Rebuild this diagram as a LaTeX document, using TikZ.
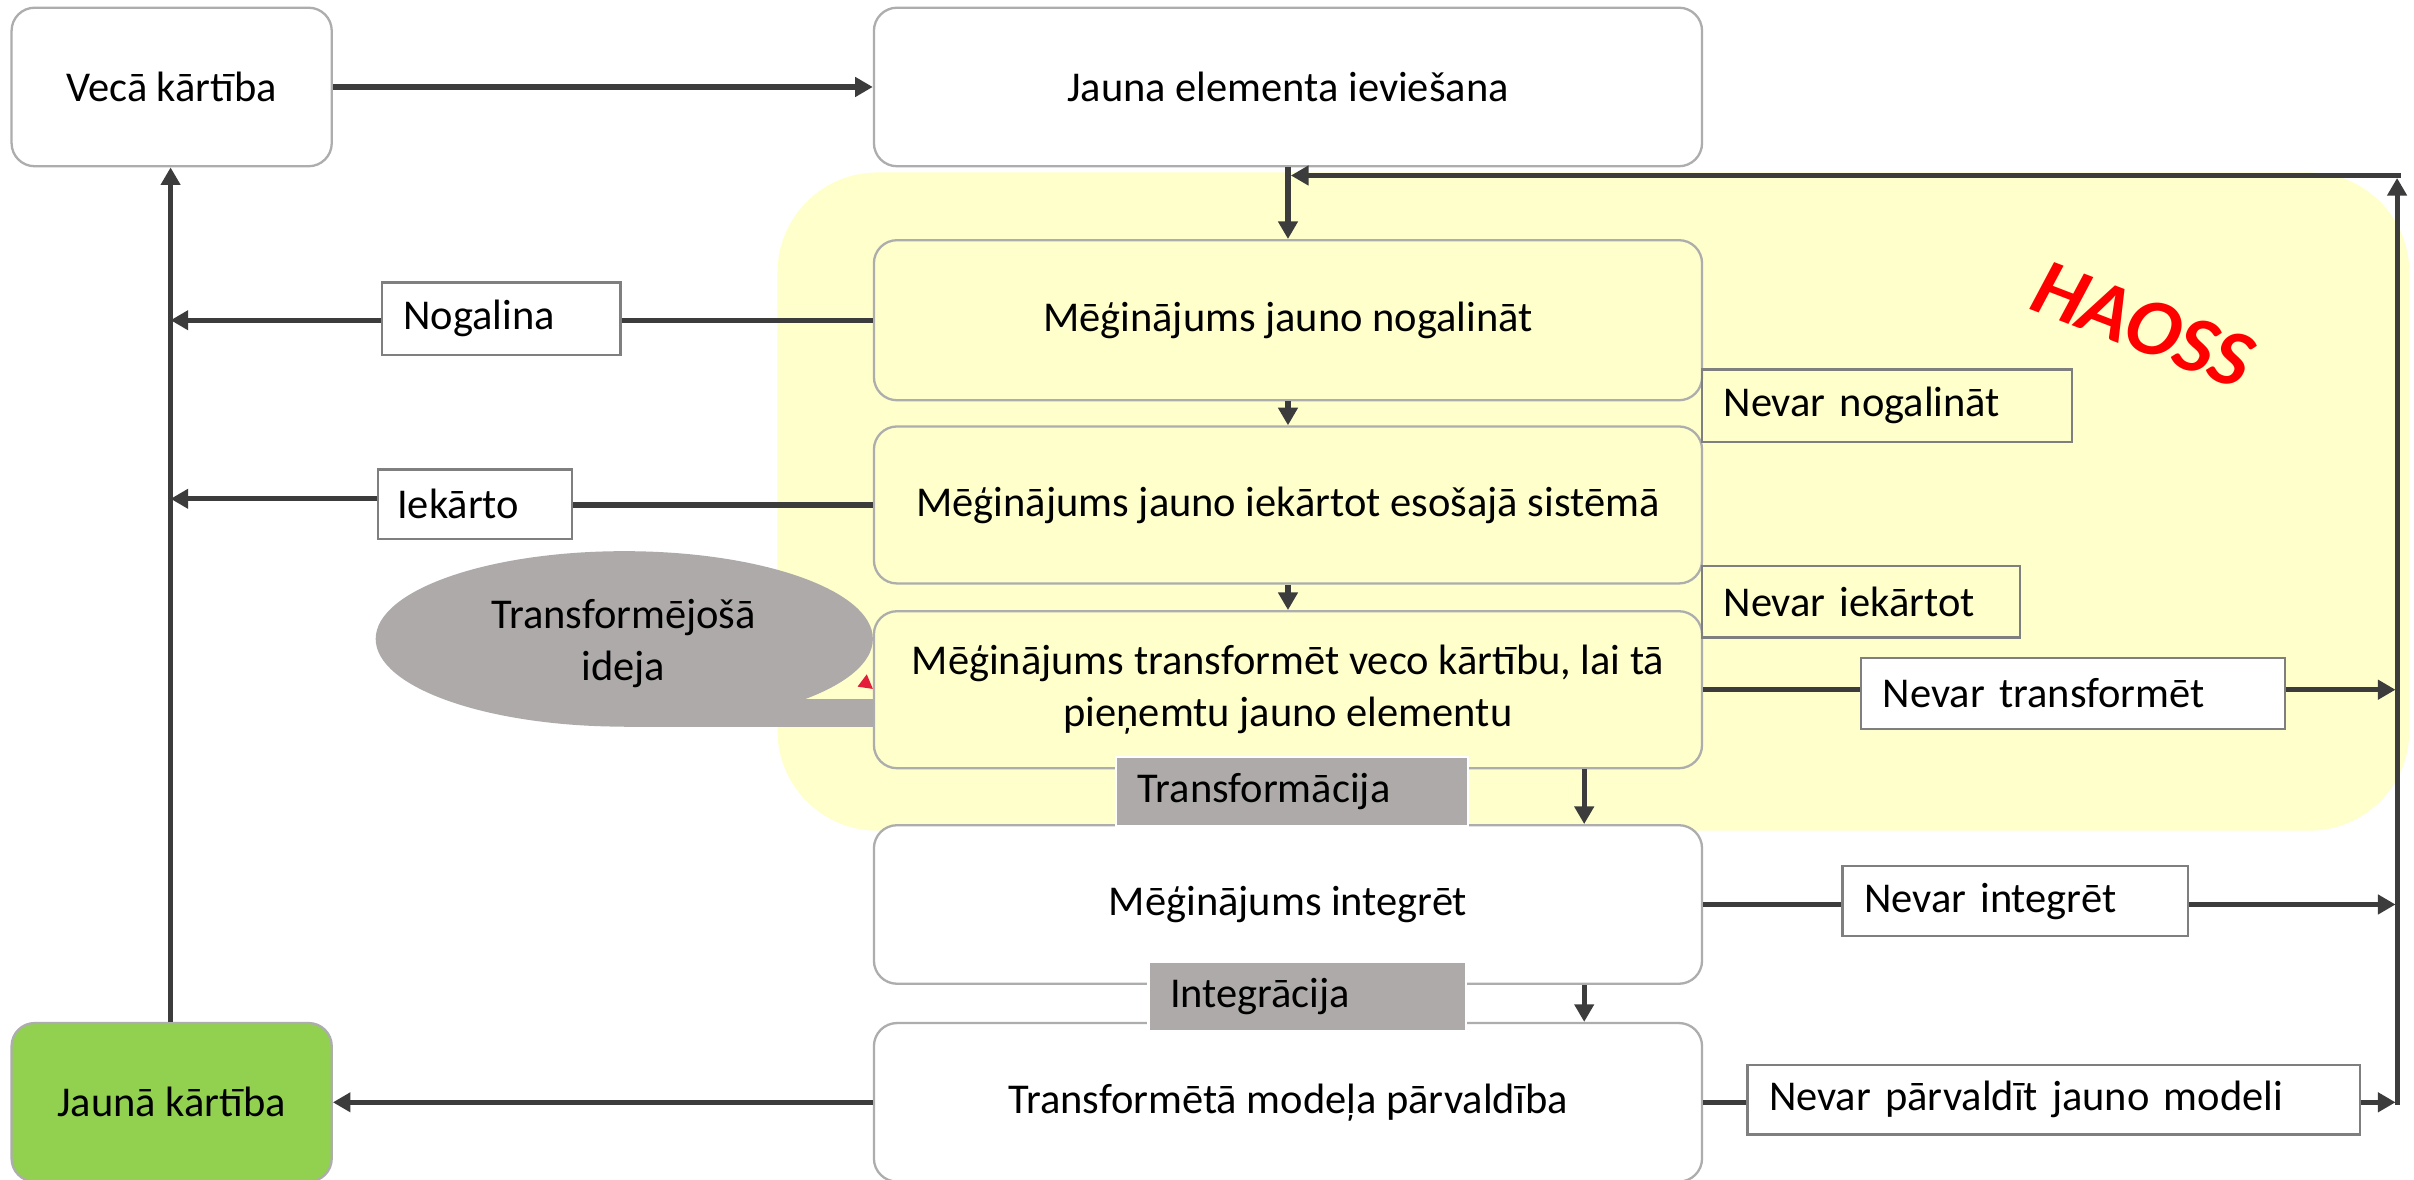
\documentclass[tikz,border=0pt]{standalone}
\usepackage{fontspec}
\setmainfont{Carlito}
\usetikzlibrary{arrows.meta,shapes.geometric}
\definecolor{yel}{HTML}{FFFFCC}
\definecolor{bgray}{HTML}{ADADAD}
\definecolor{lgray}{HTML}{7F7F7F}
\definecolor{cdark}{HTML}{3C3C3C}
\definecolor{egray}{HTML}{AEAAAA}
\definecolor{lgreen}{HTML}{92D050}
\definecolor{tred}{HTML}{E31E3C}
\begin{document}
\begin{tikzpicture}[x=0.02cm,y=-0.02cm,
  txt/.style={font=\fontsize{15.7}{19.5}\selectfont},
  box/.style={txt, draw=bgray, line width=0.85pt, rounded corners=0.3cm, align=center, inner sep=0pt},
  lbl/.style={txt, draw=lgray, line width=0.8pt, inner xsep=0.28cm, inner ysep=0pt, align=left},
  glbl/.style={lbl, fill=egray, draw=white},
  conn/.style={draw=cdark, line width=1.9pt},
  arr/.style={conn, -{Triangle[length=6.5pt,width=7pt]}}]
\clip (0,0) rectangle (1568,766);
\fill[white] (0,0) rectangle (1568,766);
% chaos region
\fill[yel, rounded corners=1.3cm] (505,112) rectangle (1565,539.6);
% transforming idea
\fill[egray] (405,454) rectangle (568,472);
\node[ellipse, fill=egray, minimum width=6.46cm, minimum height=2.28cm, inner sep=0pt] (idea) at (405.5,415) {};
\node[txt, align=center] (ideatxt) at (405,418) {Transformējošā\\ideja};
\fill[tred] (557,446) -- (567,447.5) -- (563,438) -- cycle;
% main boxes
\node[box, fill=white, minimum width=4.16cm, minimum height=2.06cm] (old) at (111.5,56.5) {Vecā kārtība};
\node[box, fill=white, minimum width=10.76cm, minimum height=2.06cm] (intro) at (836.6,56.5) {Jauna elementa ieviešana};
\node[box, fill=yel, minimum width=10.76cm, minimum height=2.08cm] (b3) at (836.6,208) {Mēģinājums jauno nogalināt};
\node[box, fill=yel, minimum width=10.76cm, minimum height=2.04cm] (b4) at (836.6,328) {Mēģinājums jauno iekārtot esošajā sistēmā};
\node[box, fill=yel, minimum width=10.76cm, minimum height=2.04cm] (b5) at (836.6,448) {Mēģinājums transformēt veco kārtību, lai tā\\pieņemtu jauno elementu};
\node[box, fill=white, minimum width=10.76cm, minimum height=2.06cm] (b6) at (836.6,587.5) {Mēģinājums integrēt};
\node[box, fill=white, minimum width=10.76cm, minimum height=2.06cm] (b7) at (836.6,716) {Transformētā modeļa pārvaldība};
\node[box, fill=lgreen, minimum width=4.16cm, minimum height=2.06cm] (new) at (111.5,716) {Jaunā kārtība};
% labels
\node[lbl, fill=white, text width=2.54cm, minimum height=0.94cm] (nog) at (325.5,207) {Nogalina};
\node[lbl, fill=white, inner xsep=0.25cm, text width=2.02cm, minimum height=0.9cm] (iek) at (308.5,327.5) {Iekārto};
\node[lbl, text width=4.25cm, minimum height=0.94cm] (nnog) at (1225.75,263.5) {Nevar nogalināt};
\node[lbl, text width=3.57cm, minimum height=0.93cm] (niek) at (1208.75,390.8) {Nevar iekārtot};
\node[lbl, fill=white, text width=4.94cm, minimum height=0.93cm] (ntr) at (1346.5,450.5) {Nevar transformēt};
\node[lbl, fill=white, text width=3.93cm, minimum height=0.91cm] (nint) at (1309,585.3) {Nevar integrēt};
\node[lbl, fill=white, text width=7.40cm, minimum height=0.9cm] (npar) at (1334,714.4) {Nevar pārvaldīt jauno modeli};
% coordinates
\coordinate (vl) at (110.8,0);
\coordinate (vr) at (1556,0);
\coordinate (xa) at (1029,0);
\coordinate (iekl) at (110.8,324);
\coordinate (rb) at (1557,717.5);
\coordinate (rtu) at (1557,115.6);
\coordinate (rt) at (1559.5,114);
\coordinate (jn) at (838.5,114);
% connectors
\draw[arr] (old.east) -- (intro.west);
\draw[arr] (intro.south) -- (b3.north);
\draw[arr] (b3.south) -- (b4.north);
\draw[arr] (b4.south) -- (b5.north);
\draw[arr] (b5.south -| xa) -- (b6.north -| xa);
\draw[arr] (b6.south -| xa) -- (b7.north -| xa);
\draw[conn] (b3.west) -- (b3.west -| nog.east);
\draw[arr] (b3.west -| nog.west) -- (b3.west -| vl);
\draw[conn] (b4.west) -- (b4.west -| iek.east);
\draw[arr] (iek.west |- iekl) -- (iekl);
\draw[arr] (new.north -| vl) -- (old.south -| vl);
\draw[arr] (b7.west) -- (new.east);
\draw[conn] (b5.east) -- (b5.east -| ntr.west);
\draw[arr] (b5.east -| ntr.east) -- (b5.east -| vr);
\draw[conn] (b6.east) -- (b6.east -| nint.west);
\draw[arr] (b6.east -| nint.east) -- (b6.east -| vr);
\draw[conn] (b7.east) -- (b7.east -| npar.west);
\draw[arr] (b7.east -| npar.east) -- (b7.east -| vr);
\draw[arr] (rb) -- (rtu);
\draw[arr] (rt) -- (jn);
% process labels
\node[glbl, text width=4.01cm, minimum height=0.9cm] (transf) at (839.3,514) {Transformācija};
\node[glbl, text width=3.56cm, minimum height=0.9cm] (integr) at (849,647.5) {Integrācija};
% chaos
\node[rotate=-21, text=red, font=\fontsize{30}{31}\selectfont\bfseries\itshape] (haoss) at (1392,211) {HAOSS};
\end{tikzpicture}
\end{document}
